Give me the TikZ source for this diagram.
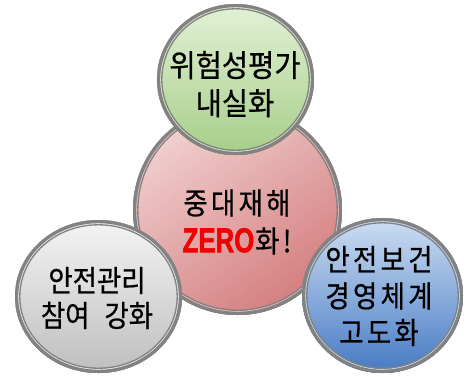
\documentclass[tikz,border=0pt]{standalone}
\usepackage{fontspec}
\setmainfont{Noto Sans CJK KR}[FakeStretch=0.88, FakeBold=0.6]
\newfontfamily\greenfont{Noto Sans CJK KR}[FakeStretch=0.92, FakeBold=0.6]
\newfontfamily\widefont{Noto Sans CJK KR}[FakeStretch=0.88, FakeBold=0.6, LetterSpace=11]
\newfontfamily\zerofont{Liberation Sans}[FakeBold=1.8]
\definecolor{ringgray}{HTML}{828282}
\definecolor{zerored}{HTML}{F00000}
\definecolor{redtop}{RGB}{241,208,208}
\definecolor{redbot}{RGB}{212,126,126}
\definecolor{redlight}{RGB}{238,190,190}
\definecolor{grtop}{RGB}{226,241,214}
\definecolor{grbot}{RGB}{166,206,136}
\definecolor{grlight}{RGB}{220,238,205}
\definecolor{gytop}{RGB}{244,244,244}
\definecolor{gybot}{RGB}{190,190,190}
\definecolor{gylight}{RGB}{235,235,235}
\definecolor{bltop}{RGB}{205,222,242}
\definecolor{blbot}{RGB}{70,122,196}
\definecolor{bllight}{RGB}{200,218,240}
\tikzset{
  ringout/.style={draw=ringgray, line width=3.2pt},
  ringin/.style={draw=ringgray, line width=1.3pt},
  lbl/.style={align=center, inner sep=0pt, text=black, font=\fontsize{30}{37}\selectfont},
}
\newcommand\bubble[5]{%
  \fill[#4] (#1) ellipse [x radius=#2pt, y radius=#3pt];
  \draw[draw=#5, line width=1.2pt] (#1) ellipse [x radius={#2pt-3.6pt}, y radius={#3pt-3.6pt}];
  \draw[ringout] (#1) ellipse [x radius={#2pt-1.6pt}, y radius={#3pt-1.6pt}];
  \draw[ringin] (#1) ellipse [x radius={#2pt-4.8pt}, y radius={#3pt-4.8pt}];
}
\begin{document}
\begin{tikzpicture}[x=1pt,y=-1pt]
\useasboundingbox (0,0) rectangle (469,376);
\coordinate (cr) at (237.5,210);
\coordinate (cg) at (235.5,79.5);
\coordinate (cw) at (98.5,296.5);
\coordinate (cb) at (382.5,295.5);
\bubble{cr}{104.5}{105}{top color=redtop, bottom color=redbot, shading angle=35}{redlight}
\bubble{cg}{78.5}{75.5}{top color=grtop, bottom color=grbot}{grlight}
\bubble{cw}{83.5}{76.5}{top color=gytop, bottom color=gybot}{gylight}
\bubble{cb}{80.5}{77.5}{top color=bltop, bottom color=blbot}{bllight}
\node[lbl, font=\greenfont\fontsize{31}{38}\selectfont] (tg) at (235,84) {위험성평가\\내실화};
\node[lbl, font=\widefont\fontsize{30}{38}\selectfont] (tr) at (237,222) {중대재해\\{\zerofont\bfseries\color{zerored}\scalebox{0.86}[1.15]{ZERO}}\hspace{1pt}화!};
\node[lbl, font=\fontsize{30}{35}\selectfont] (tw) at (97,298) {안전관리\\참여\hspace{15pt}강화};
\node[lbl, font=\widefont\fontsize{30}{36.5}\selectfont] (tb) at (379,296) {안전보건\\경영체계\\고도화};
\end{tikzpicture}
\end{document}
